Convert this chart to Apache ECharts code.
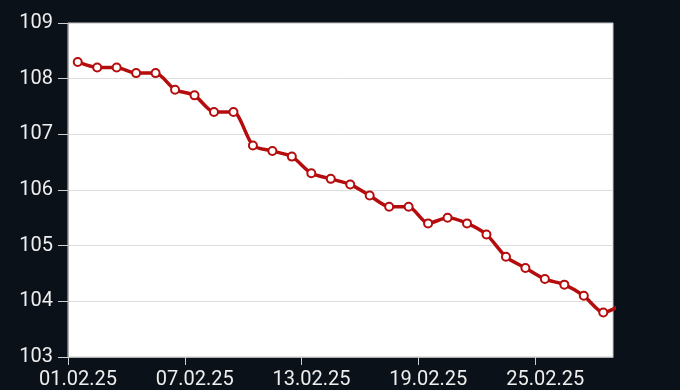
<!DOCTYPE html>
<html>
<head>
<meta charset="utf-8">
<script src="https://cdn.jsdelivr.net/npm/echarts@6/dist/echarts.min.js"></script>
<style>
html,body{margin:0;padding:0;background:#0b1118;}
#c{width:680px;height:390px;}
</style>
</head>
<body>
<div id="c"></div>
<script>
var dates = ['01.02.25','02.02.25','03.02.25','04.02.25','05.02.25','06.02.25','07.02.25','08.02.25','09.02.25','10.02.25',
  '11.02.25','12.02.25','13.02.25','14.02.25','15.02.25','16.02.25','17.02.25','18.02.25','19.02.25','20.02.25',
  '21.02.25','22.02.25','23.02.25','24.02.25','25.02.25','26.02.25','27.02.25','28.02.25','01.03.25'];
var values = [108.3,108.2,108.2,108.1,108.1,107.8,107.7,107.4,107.4,106.8,
  106.7,106.6,106.3,106.2,106.1,105.9,105.7,105.7,105.4,105.5,
  105.4,105.2,104.8,104.6,104.4,104.3,104.1,103.8,103.95];
var yTicks = [103,104,105,106,107,108,109];

var points = values.map(function(v,i){ return [i+0.5, v]; });

var chart = echarts.init(document.getElementById('c'), null, {renderer:'canvas'});
chart.setOption({
  backgroundColor:'#0b1118',
  animation:false,
  grid:{left:68,right:67,top:23,bottom:32,show:true,backgroundColor:'#ffffff',borderColor:'#c8c8c8',borderWidth:1},
  xAxis:{
    type:'value',min:0,max:28,interval:6,
    axisLine:{show:true,lineStyle:{color:'#b0b0b0',width:1}},
    axisTick:{show:true,length:8,lineStyle:{color:'#cfcfcf'}},
    splitLine:{show:false},
    axisLabel:{color:'#eeeeee',fontSize:20,fontFamily:'Roboto',margin:13,padding:[0,0,0,20],showMaxLabel:false,
      formatter:function(v){ return dates[v] || ''; }}
  },
  yAxis:{
    type:'value',min:yTicks[0],max:yTicks[yTicks.length-1],interval:1,
    axisLine:{show:true,lineStyle:{color:'#b0b0b0'}},
    axisTick:{show:true,length:10,lineStyle:{color:'#cfcfcf'}},
    splitLine:{show:true,lineStyle:{color:'#dddddd',width:1}},
    axisLabel:{color:'#eeeeee',fontSize:20,fontFamily:'Roboto',margin:15}
  },
  series:[{
    type:'line',data:points,smooth:0.25,clip:true,
    lineStyle:{color:'#b50d0d',width:3.5},
    itemStyle:{color:'#ffffff',borderColor:'#b50d0d',borderWidth:2},
    symbol:'circle',symbolSize:8,showAllSymbol:true
  }]
});
</script>
</body>
</html>
